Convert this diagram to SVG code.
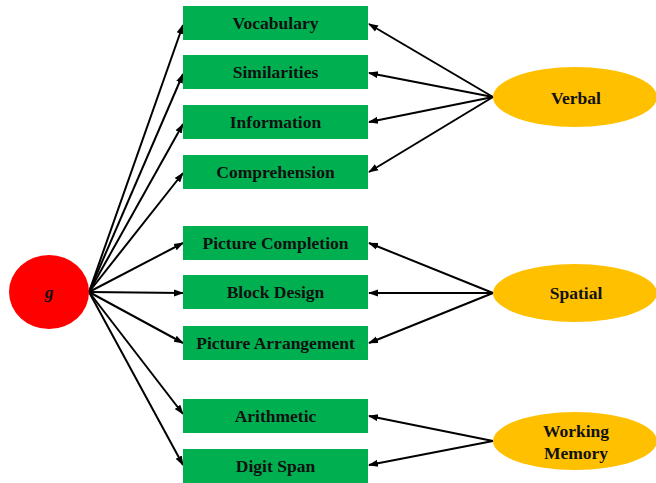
<svg xmlns="http://www.w3.org/2000/svg" width="656" height="483" viewBox="0 0 656 483">
<style>
.box{fill:#00B050}
.lat{fill:#FFC000}
.t{font-family:"Liberation Serif",serif;font-weight:bold;font-size:17.5px;fill:#111;text-anchor:middle;dominant-baseline:central}
.c line{stroke:#000;stroke-width:2;marker-end:url(#ah)}
</style>
<defs>
<marker id="ah" viewBox="0 0 10 10" refX="9" refY="5" markerWidth="5" markerHeight="5" orient="auto" markerUnits="strokeWidth">
<path d="M0,1.5 L10,5 L0,8.5 z" fill="#000"/>
</marker>
</defs>
<rect width="656" height="483" fill="#fff"/>
<g class="c" id="connectors">
<line x1="89" y1="292" x2="183" y2="25"/>
<line x1="89" y1="292" x2="183" y2="74"/>
<line x1="89" y1="292" x2="183" y2="124"/>
<line x1="89" y1="292" x2="183" y2="173"/>
<line x1="89" y1="292" x2="183" y2="243"/>
<line x1="89" y1="292" x2="183" y2="293"/>
<line x1="89" y1="292" x2="183" y2="343"/>
<line x1="89" y1="292" x2="183" y2="414"/>
<line x1="89" y1="292" x2="183" y2="465"/>
<line x1="493" y1="97" x2="369" y2="24"/>
<line x1="493" y1="97" x2="369" y2="73"/>
<line x1="493" y1="97" x2="369" y2="122"/>
<line x1="493" y1="97" x2="369" y2="172"/>
<line x1="493" y1="293" x2="369" y2="243"/>
<line x1="493" y1="293" x2="369" y2="293"/>
<line x1="493" y1="293" x2="369" y2="343"/>
<line x1="493" y1="441" x2="369" y2="416"/>
<line x1="493" y1="441" x2="369" y2="465"/>
</g>
<g id="g"><ellipse cx="49" cy="292" rx="40" ry="37" fill="#FF0000"/><text class="t" x="49" y="292" font-style="italic">g</text></g>
<g id="vocabulary"><rect class="box" x="183" y="6" width="185" height="34"/><text class="t" x="275.5" y="23">Vocabulary</text></g>
<g id="similarities"><rect class="box" x="183" y="55" width="185" height="34"/><text class="t" x="275.5" y="72">Similarities</text></g>
<g id="information"><rect class="box" x="183" y="105" width="185" height="34"/><text class="t" x="275.5" y="122">Information</text></g>
<g id="comprehension"><rect class="box" x="183" y="155" width="185" height="34"/><text class="t" x="275.5" y="172">Comprehension</text></g>
<g id="picture-completion"><rect class="box" x="183" y="226" width="185" height="34"/><text class="t" x="275.5" y="243">Picture Completion</text></g>
<g id="block-design"><rect class="box" x="183" y="275" width="185" height="34"/><text class="t" x="275.5" y="292">Block Design</text></g>
<g id="picture-arrangement"><rect class="box" x="183" y="326" width="185" height="34"/><text class="t" x="275.5" y="343">Picture Arrangement</text></g>
<g id="arithmetic"><rect class="box" x="183" y="399" width="185" height="34"/><text class="t" x="275.5" y="416">Arithmetic</text></g>
<g id="digit-span"><rect class="box" x="183" y="449" width="185" height="34"/><text class="t" x="275.5" y="466">Digit Span</text></g>
<g id="verbal"><ellipse class="lat" cx="575" cy="97" rx="82" ry="30"/><text class="t" x="576" y="98">Verbal</text></g>
<g id="spatial"><ellipse class="lat" cx="575" cy="293" rx="82" ry="29"/><text class="t" x="576" y="293">Spatial</text></g>
<g id="working-memory"><ellipse class="lat" cx="575" cy="441" rx="82" ry="29"/><text class="t" x="576" y="431">Working</text><text class="t" x="576" y="453">Memory</text></g>
</svg>
